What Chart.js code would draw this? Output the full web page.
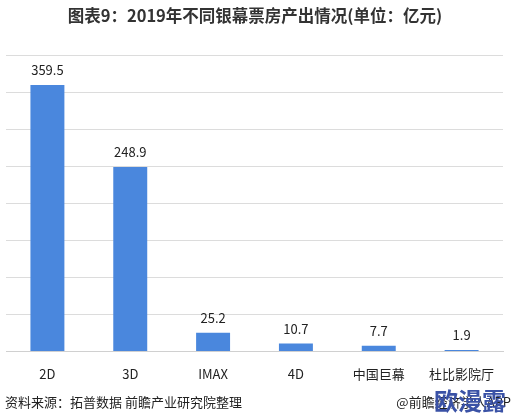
<!DOCTYPE html>
<html>
<head>
<meta charset="utf-8">
<script src="https://cdn.jsdelivr.net/npm/chart.js@4/dist/chart.umd.min.js"></script>
<style>
  html, body { margin: 0; padding: 0; background: #fff; }
  #wrap { width: 511px; height: 420px; position: relative; }
</style>
</head>
<body>
<div id="wrap"><canvas id="screenChart"></canvas></div>
<script>
// data
const categories = ['2D', '3D', 'IMAX', '4D', '中国巨幕', '杜比影院厅'];
const boxOffice = [359.5, 248.9, 25.2, 10.7, 7.7, 1.9];
const yTicks = [0, 50, 100, 150, 200, 250, 300, 350, 400];

const titleText = '图表9：2019年不同银幕票房产出情况(单位：亿元)';
const sourceText = '资料来源：拓普数据 前瞻产业研究院整理';

const cjk = '"Noto Sans CJK SC", "Noto Sans", sans-serif';

// value labels above bars + title/footer texts
const textPlugin = {
  id: 'texts',
  afterDatasetsDraw(chart) {
    const ctx = chart.ctx;
    const meta = chart.getDatasetMeta(0);
    ctx.save();
    ctx.fillStyle = '#222';
    ctx.font = '13px ' + cjk;
    ctx.textAlign = 'center';
    ctx.textBaseline = 'bottom';
    meta.data.forEach((bar, i) => {
      ctx.fillText(boxOffice[i].toFixed(1), bar.x, bar.y - 8);
    });
    ctx.restore();
  },
  afterDraw(chart) {
    const ctx = chart.ctx;
    ctx.save();
    ctx.fillStyle = '#333';
    ctx.font = 'bold 16.5px ' + cjk;
    ctx.textAlign = 'center';
    ctx.textBaseline = 'middle';
    ctx.fillText(titleText, 255, 16);

    ctx.font = '13px ' + cjk;
    ctx.textAlign = 'left';
    ctx.fillStyle = '#222';
    ctx.fillText(sourceText, 5, 402);

    ctx.textAlign = 'right';
    ctx.fillText('@前瞻经济学人APP', 511, 402);
    // blue stamp on top
    ctx.font = 'bold 24px ' + cjk;
    ctx.fillStyle = '#3a52a6';
    ctx.fillText('欧漫露', 506, 401);
    ctx.restore();
  }
};

new Chart(document.getElementById('screenChart'), {
  type: 'bar',
  data: {
    labels: categories,
    datasets: [{
      data: boxOffice,
      backgroundColor: '#4a87dd',
      borderWidth: 0,
      barPercentage: 0.41,
      categoryPercentage: 1.0
    }]
  },
  options: {
    responsive: true,
    maintainAspectRatio: false,
    animation: false,
    layout: { padding: { top: 55, left: 6, right: 8, bottom: 31 } },
    plugins: {
      legend: { display: false },
      tooltip: { enabled: false }
    },
    scales: {
      x: {
        grid: { display: false },
        border: { display: true, color: '#d0d0d0', width: 1 },
        ticks: {
          color: '#222',
          font: { size: 13, family: cjk },
          padding: 7,
          maxRotation: 0
        }
      },
      y: {
        min: yTicks[0],
        max: yTicks[yTicks.length - 1],
        afterBuildTicks(axis) {
          axis.ticks = yTicks.map(v => ({ value: v }));
        },
        ticks: { display: false },
        grid: { color: '#dcdcdc', drawTicks: false },
        border: { display: false }
      }
    }
  },
  plugins: [textPlugin]
});
</script>
</body>
</html>
